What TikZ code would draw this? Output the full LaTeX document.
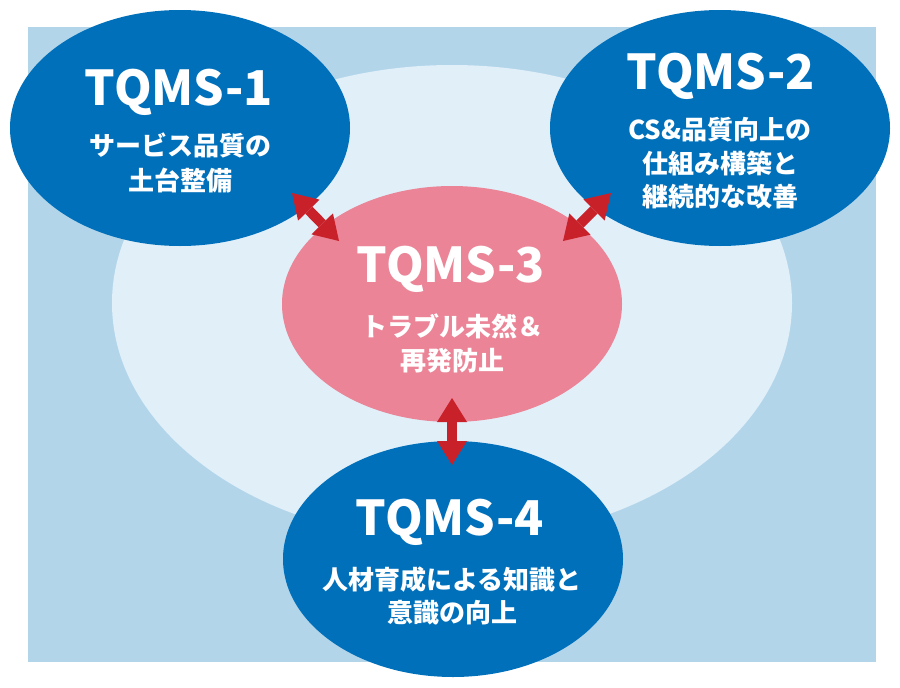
\documentclass[tikz,border=0pt]{standalone}
\usepackage{fontspec}
\setmainfont{Noto Sans CJK JP}
\usetikzlibrary{shapes.geometric,arrows.meta}
\definecolor{bgblue}{HTML}{B3D5EA}
\definecolor{pale}{HTML}{E1EFF9}
\definecolor{dblue}{HTML}{0070BB}
\definecolor{pinkc}{HTML}{EA8496}
\definecolor{arrowred}{HTML}{C9212A}
\tikzset{
  blob/.style={ellipse, minimum width=340pt, minimum height=236pt, inner sep=0pt},
  title/.style={anchor=base, inner sep=0pt, text=white, font=\fontsize{48}{48}\selectfont\bfseries},
  sub/.style={anchor=base, inner sep=0pt, text=white, font=\fontsize{26}{26}\selectfont\bfseries},
  dbl/.style={draw=arrowred, line width=10pt,
    {Triangle[length=24pt 0 0, width=30pt 0 0, line width=0pt]}-{Triangle[length=24pt 0 0, width=30pt 0 0, line width=0pt]}}
}
\begin{document}
\begin{tikzpicture}[x=1pt, y=-1pt]
\useasboundingbox (0,0) rectangle (900,688);
\fill[bgblue] (28,27) rectangle (876,662);
\node[ellipse, fill=pale, minimum width=680pt, minimum height=476pt, inner sep=0pt] (big) at (452,303) {};
\node[blob, fill=dblue] (e1) at (180,128) {};
\node[blob, fill=dblue] (e2) at (720,128) {};
\node[blob, fill=pinkc] (e3) at (452,304) {};
\node[blob, fill=dblue] (e4) at (453,559) {};
% arrows
\coordinate (a1s) at (292,193);
\coordinate (a1e) at (339,241);
\coordinate (a2s) at (611,193);
\coordinate (a2e) at (563,241);
\coordinate (a3s) at (452,398);
\coordinate (a3e) at (452,465);
\draw[dbl] (a1s) -- (a1e);
\draw[dbl] (a2s) -- (a2e);
\draw[dbl] (a3s) -- (a3e);
% texts
\node[title] (t1) at (179,105) {TQMS-1};
\node[sub] (t1a) at (180,155) {サービス品質の};
\node[sub] (t1b) at (180,190) {土台整備};
\node[title] (t2) at (721,89) {TQMS-2};
\node[sub] (t2a) at (720,139) {CS\&品質向上の};
\node[sub] (t2b) at (720,173) {仕組み構築と};
\node[sub] (t2c) at (720,206) {継続的な改善};
\node[title] (t3) at (451,282) {TQMS-3};
\node[sub] (t3a) at (452,336) {トラブル未然＆};
\node[sub] (t3b) at (452,370) {再発防止};
\node[title] (t4) at (450,535) {TQMS-4};
\node[sub] (t4a) at (452,589) {人材育成による知識と};
\node[sub] (t4b) at (452,622) {意識の向上};
\end{tikzpicture}
\end{document}
